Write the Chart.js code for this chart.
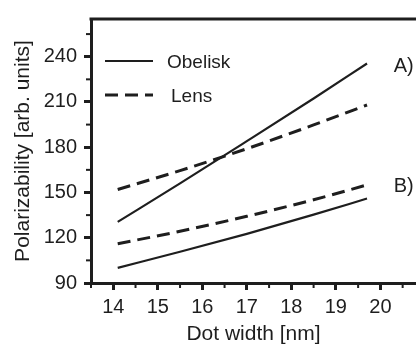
<!DOCTYPE html>
<html>
<head>
<meta charset="utf-8">
<script src="https://cdn.jsdelivr.net/npm/chart.js@4"></script>
<style>
  html, body { margin: 0; padding: 0; background: #fff; }
  #wrap { width: 416px; height: 347px; overflow: hidden; }
</style>
</head>
<body>
<div id="wrap"><canvas id="chart" width="416" height="347"></canvas></div>
<script>
const widths = [14.1, 15.5, 17, 18.5, 19.7];
const obeliskA = [130.5, 156, 184, 212.3, 235.5];
const lensA = [152, 164.5, 179, 194.8, 208];
const obeliskB = [100, 110.7, 122.6, 135.3, 146];
const lensB = [116, 124.3, 134.2, 145.2, 155];

const shapes = ["Obelisk", "Lens"];
const groups = ["A)", "B)"];
const groupPos = [[20.3, 233.5], [20.3, 154]];

const xTicks = [14, 15, 16, 17, 18, 19, 20];
const xMinor = [13.5, 14.5, 15.5, 16.5, 17.5, 18.5, 19.5, 20.5];
const yTicks = [90, 120, 150, 180, 210, 240];
const yMinor = [105, 135, 165, 195, 225, 255];

const ink = "#1e1e1e";
const font = "'Liberation Sans', Arial, sans-serif";

function points(ys) {
  return widths.map((x, i) => ({ x, y: ys[i] }));
}

function series(label, ys, dashed) {
  return {
    label,
    data: points(ys),
    borderColor: ink,
    borderWidth: dashed ? 3 : 2.2,
    borderDash: dashed ? [13, 7] : [],
    pointRadius: 0,
    fill: false,
    cubicInterpolationMode: "monotone",
  };
}

const decorations = {
  id: "decorations",
  afterDraw(chart) {
    const { ctx, chartArea: area, scales } = chart;
    const x = scales.x;
    const y = scales.y;
    ctx.save();
    ctx.strokeStyle = ink;

    // top frame line
    ctx.lineWidth = 3;
    ctx.beginPath();
    ctx.moveTo(area.left - 1.5, area.top);
    ctx.lineTo(area.right, area.top);
    ctx.stroke();

    // minor ticks
    ctx.lineWidth = 2;
    xMinor.forEach((v) => {
      const px = x.getPixelForValue(v);
      ctx.beginPath();
      ctx.moveTo(px, area.bottom);
      ctx.lineTo(px, area.bottom + 5);
      ctx.stroke();
    });
    yMinor.forEach((v) => {
      const py = y.getPixelForValue(v);
      ctx.beginPath();
      ctx.moveTo(area.left, py);
      ctx.lineTo(area.left - 5, py);
      ctx.stroke();
    });

    // legend
    ctx.fillStyle = ink;
    ctx.font = `19px ${font}`;
    ctx.textBaseline = "middle";
    ctx.textAlign = "left";
    const rows = [
      { label: shapes[0], ds: chart.data.datasets[0], y: 61, tx: 167 },
      { label: shapes[1], ds: chart.data.datasets[1], y: 95, tx: 171 },
    ];
    rows.forEach((r) => {
      ctx.lineWidth = r.ds.borderWidth;
      ctx.setLineDash(r.ds.borderDash);
      ctx.beginPath();
      ctx.moveTo(105, r.y);
      ctx.lineTo(153, r.y);
      ctx.stroke();
      ctx.setLineDash([]);
      ctx.fillText(r.label, r.tx, r.y + 2);
    });

    // group labels
    ctx.font = `20px ${font}`;
    groups.forEach((g, i) => {
      ctx.fillText(g, x.getPixelForValue(groupPos[i][0]), y.getPixelForValue(groupPos[i][1]));
    });
    ctx.restore();
  },
};

new Chart(document.getElementById("chart"), {
  type: "line",
  data: {
    datasets: [
      series("Obelisk A", obeliskA, false),
      series("Lens A", lensA, true),
      series("Obelisk B", obeliskB, false),
      series("Lens B", lensB, true),
    ],
  },
  options: {
    responsive: false,
    animation: false,
    devicePixelRatio: 1,
    layout: { padding: { top: 15, right: 0, left: 0, bottom: 0 } },
    plugins: { legend: { display: false }, tooltip: { enabled: false } },
    scales: {
      x: {
        type: "linear",
        min: 13.5,
        max: 20.8,
        afterBuildTicks: (s) => { s.ticks = xTicks.map((v) => ({ value: v })); },
        afterFit: (s) => { s.height = 64; },
        border: { color: ink, width: 3 },
        grid: { drawOnChartArea: false, color: ink, tickLength: 7, tickWidth: 3 },
        ticks: { color: ink, font: { family: font, size: 20 }, padding: 5, maxRotation: 0 },
        title: {
          display: true,
          text: "Dot width [nm]",
          color: ink,
          font: { family: font, size: 21 },
          padding: { top: 0, bottom: 0 },
        },
      },
      y: {
        min: 90,
        max: 265,
        afterBuildTicks: (s) => { s.ticks = yTicks.map((v) => ({ value: v })); },
        afterFit: (s) => { s.width = 91; },
        border: { color: ink, width: 3 },
        grid: { drawOnChartArea: false, color: ink, tickLength: 7, tickWidth: 3 },
        ticks: { color: ink, font: { family: font, size: 20 }, padding: 7 },
        title: {
          display: true,
          text: "Polarizability [arb. units]",
          color: ink,
          font: { family: font, size: 21 },
          padding: { top: 11, bottom: 0 },
        },
      },
    },
  },
  plugins: [decorations],
});
</script>
</body>
</html>
